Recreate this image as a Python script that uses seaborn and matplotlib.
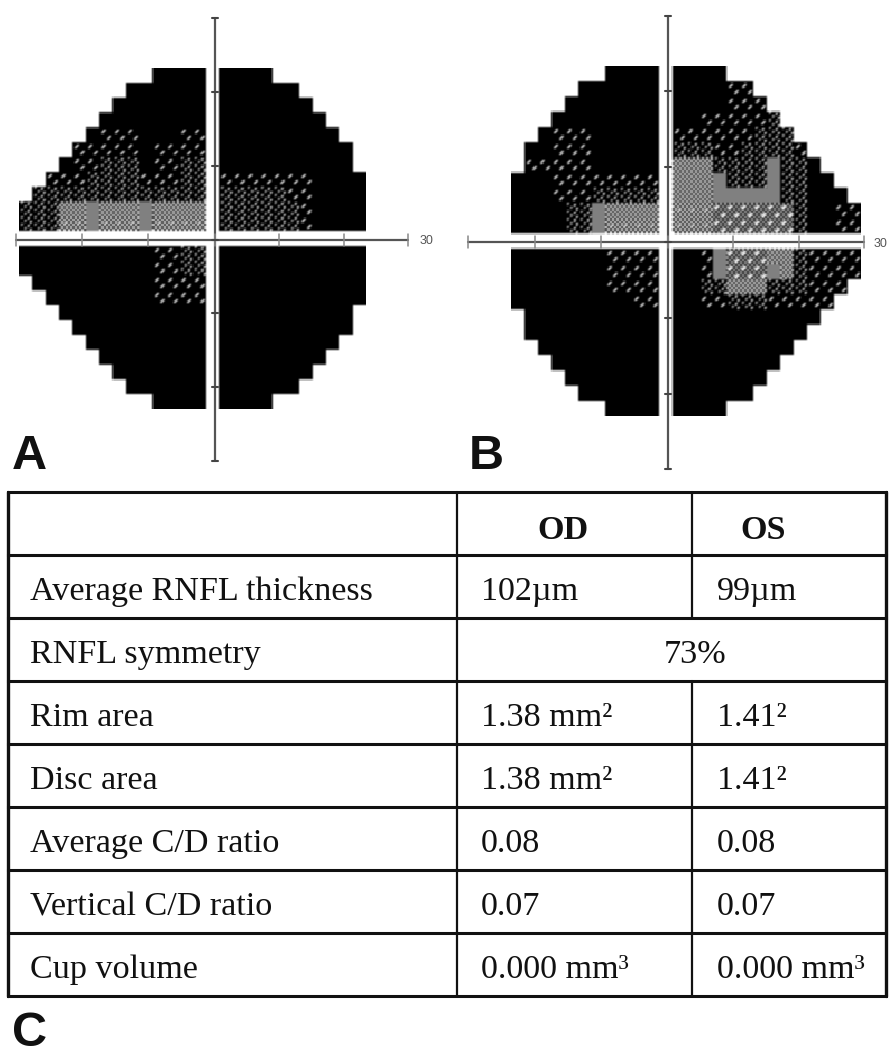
"""Visual field grey scale maps for both eyes plus the OCT summary table."""
import matplotlib
matplotlib.use("Agg")
import matplotlib.pyplot as plt
import numpy as np
import seaborn as sns

W, H = 894, 1050

# grey scale class per field cell, "left|right" of the vertical meridian
FIELD_A_UPPER = [
    "KKKK|KKKK",
    "KKKKKK|KKKKKK",
    "KKKKKKK|KKKKKKK",
    "KKKKKKKK|KKKKKKKK",
    "KsssKKKss|KKKKKKKKK",
    "sssssKssss|KKKKKKKKKK",
    "KssdddKssdd|KKKKKKKKKK",
    "sssddddsssdd|sssssssKKKK",
    "ddddddddddddd|dddddssKKKK",
    "dddccgcccgcccc|ddddddsKKKK",
    "dddhhghhhghhhh|ddddddsKKKK",
]
FIELD_A_LOWER = [
    "KKKKKKKKKKssdd|KKKKKKKKKKK",
    "KKKKKKKKKKssdd|KKKKKKKKKKK",
    "KKKKKKKKKssss|KKKKKKKKKKK",
    "KKKKKKKKssss|KKKKKKKKKKK",
    "KKKKKKKKKKK|KKKKKKKKKK",
    "KKKKKKKKKK|KKKKKKKKKK",
    "KKKKKKKKK|KKKKKKKKK",
    "KKKKKKKK|KKKKKKKK",
    "KKKKKKK|KKKKKKK",
    "KKKKKK|KKKKKK",
    "KKKK|KKKK",
]
FIELD_B_UPPER = [
    "KKKK|KKKK",
    "KKKKKK|KKKKss",
    "KKKKKKK|KKKKsss",
    "KKKKKKKK|KKsssssd",
    "KsssKKKKK|ssssssddd",
    "KKsssKKKKK|dddssdddds",
    "sssssKKKKK|cccddddgddK",
    "KKKssssssss|cccgdddgddKK",
    "KKKsssddddd|cccgggggddKKK",
    "KKKKddgcccc|hhhwwwwwwdKKss",
    "KKKKddghhhh|hhhwwwwwwdKKss",
]
FIELD_B_LOWER = [
    "KKKKKKKssss|KKsgwwwccdssss",
    "KKKKKKKssss|KKsgwwwgcdssss",
    "KKKKKKKssss|KKddcccdddsss",
    "KKKKKKKKKss|KKssdddsssss",
    "KKKKKKKKKK|KKKKKKKKKKK",
    "KKKKKKKKKK|KKKKKKKKKK",
    "KKKKKKKKK|KKKKKKKKK",
    "KKKKKKKK|KKKKKKKK",
    "KKKKKKK|KKKKKKK",
    "KKKKKK|KKKKKK",
    "KKKK|KKKK",
]
AXIS_DEGREES = [-30, -20, -10, 0, 10, 20, 30]
AXIS_LABEL = "30"

TABLE_HEADER = ["", "OD", "OS"]
TABLE_ROWS = [
    ["Average RNFL thickness", "102µm", "99µm"],
    ["RNFL symmetry", "73%", None],
    ["Rim area", "1.38 mm²", "1.41²"],
    ["Disc area", "1.38 mm²", "1.41²"],
    ["Average C/D ratio", "0.08", "0.08"],
    ["Vertical C/D ratio", "0.07", "0.07"],
    ["Cup volume", "0.000 mm³", "0.000 mm³"],
]

TILE = 12


def dashes(base, points, value, width=1):
    tile = np.full((TILE, TILE), float(base)) if np.isscalar(base) else base.copy()
    for r, c in points:
        for k in (-1, 0, 1):
            for w in range(width):
                tile[(r - k) % TILE, (c + k + w) % TILE] = value
    return tile


def dots(base, points, value):
    tile = base.copy()
    for r, c in points:
        tile[r, c] = value
        tile[r, (c + 1) % TILE] = value
        tile[(r + 1) % TILE, c] = value
    return tile


def checker(low, high):
    i, j = np.indices((TILE, TILE))
    return np.where((i // 2 + j // 2) % 2 == 0, low, high)


def make_tiles():
    dense = dots(np.zeros((TILE, TILE)), [(0, 2), (3, 5), (6, 2), (9, 5)], 0.8)
    dense = dots(dense, [(1, 8), (4, 10), (7, 8), (10, 10)], 1.0)
    white = dashes(checker(0.05, 0.7), [(3, 2), (9, 8)], 1.0, width=3)
    return {
        " ": np.full((TILE, TILE), 1.0),
        "K": np.zeros((TILE, TILE)),
        "s": dashes(0, [(3, 3), (8, 8)], 1.0, width=2),
        "d": dense,
        "c": checker(0.12, 0.88),
        "h": dots(checker(0.0, 1.0), [(5, 5)], 1.0),
        "g": np.full((TILE, TILE), 0.5),
        "w": white,
    }


def soften(matrix):
    # the source is a resampled scan, nothing in it has a hard edge
    out = np.pad(matrix, 1, mode="edge")
    for axis in (0, 1):
        out = (np.roll(out, 1, axis) + 2 * out + np.roll(out, -1, axis)) / 4
    return out[1:-1, 1:-1]


def field_matrix(upper, lower, n_left, n_right):
    tiles = make_tiles()
    rows = []
    for row in upper + [" | "] + lower:
        left, right = row.split("|")
        rows.append(left.strip().rjust(n_left) + " " + right.strip().ljust(n_right))
    blocks = [np.hstack([tiles[ch] for ch in row]) for row in rows]
    return soften(np.vstack(blocks))


def px_axes(fig, left, top, right, bottom):
    return fig.add_axes([left / W, 1 - bottom / H, (right - left) / W, (bottom - top) / H])


def draw_field(fig, matrix, box):
    ax = px_axes(fig, *box)
    sns.heatmap(
        matrix, ax=ax, cmap="gray", vmin=0, vmax=1, cbar=False,
        xticklabels=False, yticklabels=False, rasterized=True,
    )
    ax.tick_params(length=0)


def draw_cross(page, x_stops, y_stops, label_xy):
    color = "#555555"
    xs = np.interp(AXIS_DEGREES, [-30, 0, 30], x_stops)
    ys = np.interp(AXIS_DEGREES, [-30, 0, 30], y_stops)
    cx, cy = x_stops[1], y_stops[1]
    page.plot(x_stops[[0, 2]], [cy, cy], color=color, lw=1.6)
    page.plot([cx, cx], y_stops[[0, 2]], color=color, lw=1.6)
    for x in xs:
        page.plot([x, x], [cy - 6, cy + 6], color="#888888", lw=1.1)
    for y in ys:
        page.plot([cx - 3, cx + 3], [y, y], color="#444444", lw=1.5)
    page.text(*label_xy, AXIS_LABEL, fontsize=9, color="#555555",
              ha="center", va="center", family="Liberation Sans")


def draw_table(page):
    xs = [7.5, 457, 692, 886]
    ys = np.arange(492, 997, 63)
    serif = dict(family="Liberation Serif", fontsize=24.6, color="#111111", va="baseline")
    for y in ys:
        page.plot([xs[0], xs[3]], [y, y], color="#111111", lw=2.2, solid_capstyle="projecting")
    page.plot([xs[0], xs[0]], [ys[0], ys[-1]], color="#111111", lw=2.4)
    page.plot([xs[3], xs[3]], [ys[0], ys[-1]], color="#111111", lw=2.4)
    page.plot([xs[1], xs[1]], [ys[0], ys[-1]], color="#111111", lw=1.6)
    for i in range(len(TABLE_ROWS) + 1):
        if i == 2:
            continue  # symmetry row spans both eyes
        page.plot([xs[2], xs[2]], [ys[i], ys[i + 1]], color="#111111", lw=1.6)

    page.text(563, ys[0] + 47, TABLE_HEADER[1], ha="center", weight="bold", **serif)
    page.text(763, ys[0] + 47, TABLE_HEADER[2], ha="center", weight="bold", **serif)
    for i, (name, od, os_) in enumerate(TABLE_ROWS):
        base = ys[i + 1] + 45
        page.text(30, base, name, **serif)
        if os_ is None:
            page.text(695, base, od, ha="center", **serif)
        else:
            page.text(481, base, od, **serif)
            page.text(717, base, os_, **serif)


def main():
    sns.set_theme(style="white")
    plt.rcParams["font.family"] = ["Liberation Sans", "DejaVu Sans"]

    fig = plt.figure(figsize=(W / 100, H / 100), dpi=100, facecolor="white")

    draw_field(fig, field_matrix(FIELD_A_UPPER, FIELD_A_LOWER, 14, 11), (19, 68, 366, 409))
    draw_field(fig, field_matrix(FIELD_B_UPPER, FIELD_B_LOWER, 11, 14), (511, 66, 861, 416))

    page = px_axes(fig, 0, 0, W, H)
    page.set_xlim(0, W)
    page.set_ylim(H, 0)
    page.axis("off")
    page.patch.set_alpha(0)

    draw_cross(page, np.array([16, 214.5, 408]), np.array([18, 239.5, 461]), (426, 241))
    draw_cross(page, np.array([467.7, 668.3, 863.7]), np.array([15.7, 242.3, 469.3]), (881, 244))
    draw_table(page)

    panel = dict(family="Liberation Sans", weight="bold", fontsize=35, color="#111111", va="baseline")
    page.text(12, 469, "A", **panel)
    page.text(469, 469, "B", **panel)
    page.text(12, 1046, "C", **panel)

    fig.savefig("out.png", dpi=100)
    plt.close(fig)


if __name__ == "__main__":
    main()
